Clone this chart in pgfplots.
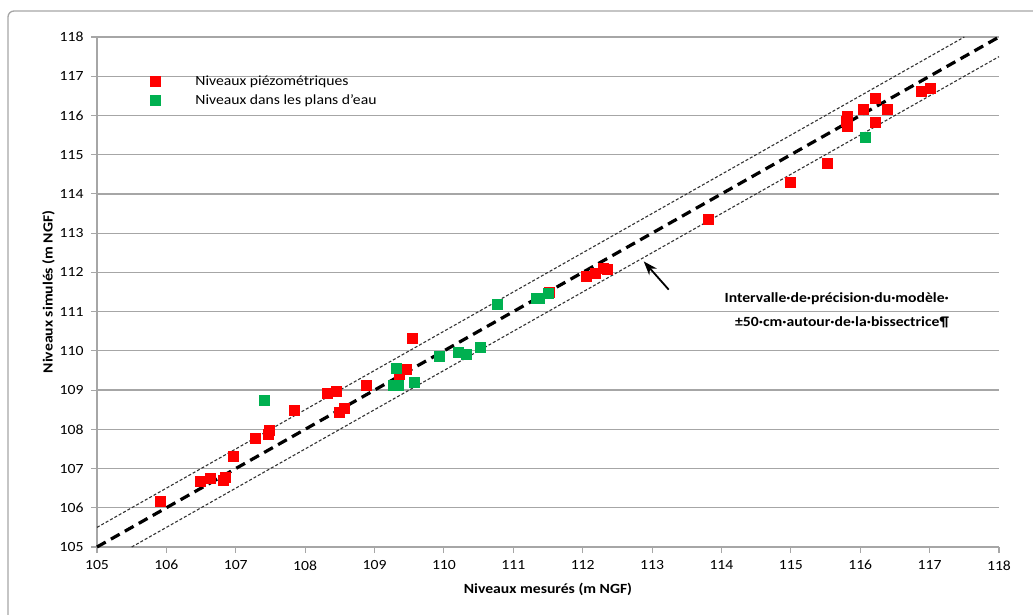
\documentclass[border=0pt]{standalone}
\usepackage{pgfplots}
\pgfplotsset{compat=1.18}
\usepackage{pgfplotstable}
\usetikzlibrary{arrows.meta}
\usepackage{fontspec}
\setmainfont{Carlito}[FakeStretch=1.12]
\definecolor{myred}{HTML}{FF0000}
\definecolor{mygreen}{HTML}{00B050}
\definecolor{gridgray}{HTML}{A6A6A6}

\pgfplotstableread{
x y
105.92 106.16
106.49 106.68
106.64 106.75
106.82 106.70
106.85 106.78
106.97 107.30
107.28 107.76
107.47 107.86
107.48 107.96
107.85 108.48
108.32 108.91
108.45 108.96
108.50 108.43
108.57 108.54
108.88 109.11
109.36 109.39
109.46 109.52
109.54 110.31
111.52 111.50
112.06 111.89
112.18 111.98
112.30 112.11
112.36 112.08
113.82 113.36
115.00 114.28
115.53 114.78
115.81 115.98
115.80 115.85
115.81 115.72
116.04 116.15
116.22 116.42
116.22 115.81
116.40 116.15
116.89 116.62
117.01 116.70
}\piezo

\pgfplotstableread{
x y
107.41 108.74
109.32 109.56
109.28 109.11
109.35 109.12
109.57 109.19
109.93 109.86
110.21 109.97
110.32 109.90
110.53 110.08
110.77 111.19
111.34 111.34
111.38 111.33
111.51 111.47
116.08 115.44
}\eau

\begin{document}
\begin{tikzpicture}
\useasboundingbox (-97pt,-67pt) rectangle (936pt,547pt);
\draw[gridgray, line width=1.3pt, rounded corners=6pt] (-89pt,-90pt) -- (-89pt,536pt) -- (960pt,536pt);
\begin{axis}[
  at={(0pt,0pt)}, anchor=south west,
  scale only axis, width=902pt, height=510pt,
  xmin=105, xmax=118, ymin=105, ymax=118,
  xtick={105,...,118}, ytick={105,...,118},
  axis x line=bottom, axis y line=left,
  axis line style={-, gridgray, line width=1.3pt},
  ymajorgrids, major grid style={gridgray, line width=1.3pt},
  tick style={gridgray, line width=1.1pt},
  major tick length=6pt,
  xtick align=outside, ytick align=outside,
  tick label style={font=\fontsize{14}{16}\selectfont},
  /pgf/number format/assume math mode=true,
  xticklabel style={yshift=-4pt},
  yticklabel style={xshift=-4pt},
  xlabel={\textbf{Niveaux mesurés (m NGF)}},
  ylabel={\textbf{Niveaux simulés (m NGF)}},
  label style={font=\fontsize{14}{16}\selectfont},
  xlabel style={yshift=-6pt},
  ylabel style={yshift=-2pt},
  clip=false,
  legend cell align=left,
  legend style={draw=none, fill=none, at={(axis description cs:0.059,0.93)}, anchor=north west,
    inner sep=0pt, font=\fontsize{14}{16}\selectfont, row sep=2pt,
    nodes={inner sep=3pt}},
  legend image code/.code={\path[draw=none,fill=none] (-5pt,-5pt) rectangle (37pt,5pt); \draw[#1] plot coordinates {(0pt,0pt)};},
]
\addplot[black!80, line width=1.1pt, dash pattern=on 3pt off 2pt, forget plot] coordinates {(105,105.5) (117.5,118)};
\addplot[black!80, line width=1.1pt, dash pattern=on 3pt off 2pt, forget plot] coordinates {(105.5,105) (118,117.5)};
\addplot[black, line width=3.2pt, dash pattern=on 10pt off 6pt, forget plot] coordinates {(105,105) (118,118)};
\addplot[only marks, myred, mark=square*, mark size=5pt, mark options={draw=myred, fill=myred, line width=0pt}] table {\piezo};
\addlegendentry{Niveaux piézométriques}
\addplot[only marks, mygreen, mark=square*, mark size=5pt, mark options={draw=mygreen, fill=mygreen, line width=0pt}] table {\eau};
\addlegendentry{Niveaux dans les plans d'eau}
\draw[line width=1.8pt, -{Stealth[length=14pt,width=10pt]}] (axis cs:113.24,111.56) -- (axis cs:112.88,112.28);
\node[anchor=east, align=right, font=\fontsize{14}{24}\selectfont\bfseries, inner sep=0pt] at (axis cs:117.28,111.04)
  {Intervalle·de·précision·du·modèle·\\±50·cm·autour·de·la·bissectrice¶};
\end{axis}
\end{tikzpicture}
\end{document}
